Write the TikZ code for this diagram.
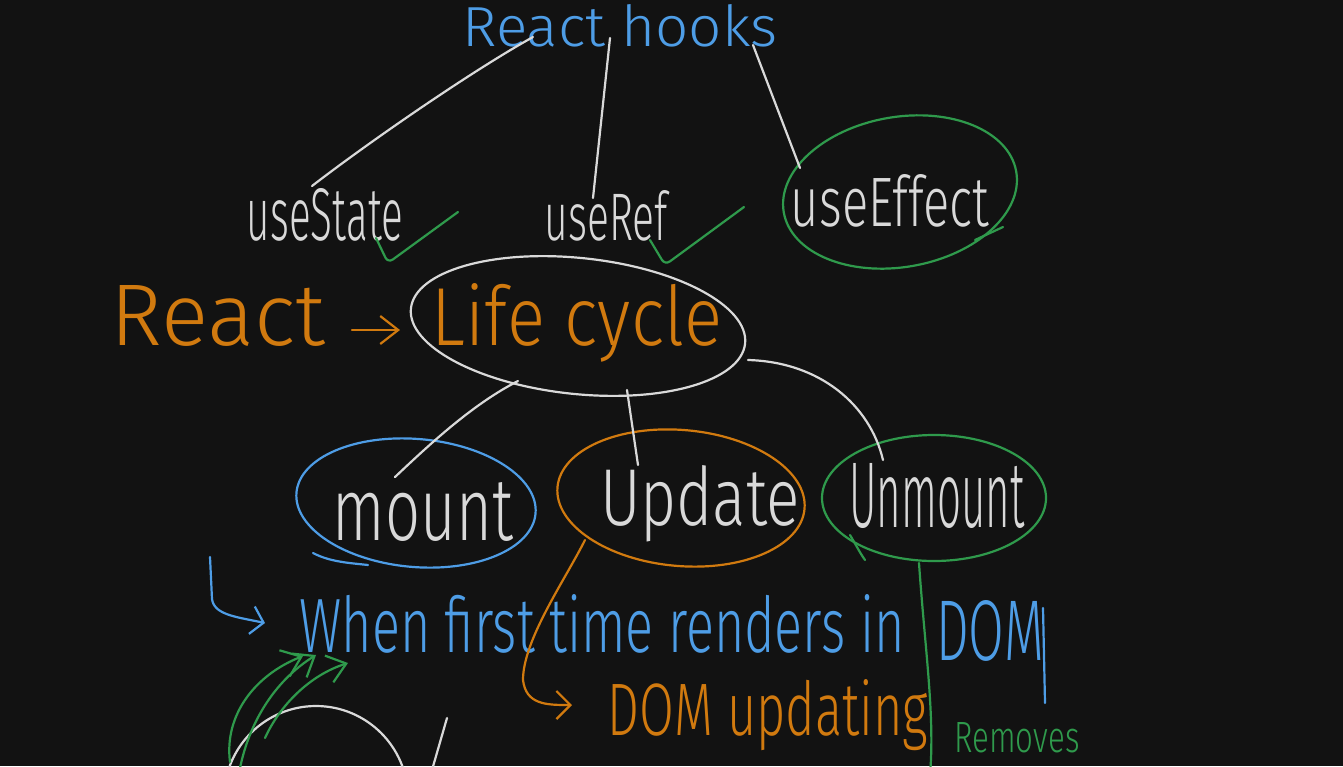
\documentclass[tikz,border=0pt]{standalone}
\usepackage{fontspec}
\setmainfont{Fira Sans Light}
\usepackage{graphicx}
\usetikzlibrary{shapes.geometric,arrows.meta,calc}
\definecolor{bg}{HTML}{121212}
\definecolor{hblue}{HTML}{4E9DE6}
\definecolor{horange}{HTML}{D17A0F}
\definecolor{hgreen}{HTML}{2F9A4C}
\definecolor{hwhite}{HTML}{D9D9D9}
\newcommand{\hwt}[3]{\resizebox{#1pt}{#2pt}{#3}}
\begin{document}
\begin{tikzpicture}[x=1pt,y=-1pt,
  stroke/.style={line width=2.2pt,line cap=round,line join=round},
  wline/.style={stroke,draw=hwhite},
  ell/.style={ellipse,draw,line width=2.2pt,inner sep=0pt},
  txt/.style={inner sep=0pt,anchor=base},
  barb/.style={-{Straight Barb[length=#1,width=28pt]}}]
\useasboundingbox (0,0) rectangle (1343,766);
\fill[bg] (0,0) rectangle (1343,766);
\clip (0,0) rectangle (1343,766);

% nodes
\node[txt,text=hblue] (hooks) at (620,46) {\hwt{315}{42}{React hooks}};
\node[txt,text=hwhite] (state) at (325,240) {\hwt{156}{52}{useState}};
\node[txt,text=hwhite] (ref) at (606,240) {\hwt{123}{50}{useRef}};
\node[ell,draw=hgreen,minimum width=236pt,minimum height=150pt,rotate=10] (effE) at (900,192) {};
\node[txt,text=hwhite] (eff) at (890,226) {\hwt{198}{52}{useEffect}};
\node[txt,text=horange] (react) at (218,345) {\hwt{215}{60}{React}};
\node[ell,draw=hwhite,minimum width=336pt,minimum height=136pt,rotate=-6] (lcE) at (578,326) {};
\node[txt,text=horange] (lc) at (577,345) {\hwt{290}{62}{Life cycle}};
\node[ell,draw=hblue,minimum width=240pt,minimum height=128pt,rotate=-5] (mountE) at (416,503) {};
\node[txt,text=hwhite] (mount) at (423,540) {\hwt{180}{58}{mount}};
\node[ell,draw=horange,minimum width=248pt,minimum height=136pt,rotate=-5] (updE) at (681,498) {};
\node[txt,text=hwhite] (upd) at (700,525) {\hwt{200}{60}{Update}};
\node[ell,draw=hgreen,minimum width=224pt,minimum height=126pt] (unE) at (934,498) {};
\node[txt,text=hwhite] (unm) at (937,527) {\hwt{175}{64}{Unmount}};
\node[txt,text=hblue] (when) at (602,652) {\hwt{605}{58}{When first time renders in}};
\node[txt,text=hblue] (dom) at (990,660) {\hwt{108}{60}{DOM}};
\node[txt,text=horange] (domup) at (768,735) {\hwt{320}{56}{DOM updating}};
\node[txt,text=hgreen] (rem) at (1017,752) {\hwt{125}{30}{Removes}};

% connectors from React hooks
\draw[wline] ($(hooks.base)+(-87,-9)$) .. controls ($(hooks.base)+(-150,26)$) and ($(state.base)+(40,-95)$) .. ($(state.base)+(-13,-54)$);
\draw[wline] ($(hooks.base)+(-10,-8)$) -- ($(ref.base)+(-13,-42)$);
\draw[wline] ($(hooks.base)+(133,-1)$) -- ($(effE.center)+(-100,-24)$);
% checkmarks
\draw[stroke,hgreen,rounded corners=6pt] ($(state.base)+(51,-2)$) -- ($(state.base)+(63,23)$) -- ($(state.base)+(133,-28)$);
\draw[stroke,hgreen,rounded corners=6pt] ($(ref.base)+(44,0)$) -- ($(ref.base)+(59,25)$) -- ($(ref.base)+(138,-33)$);
\draw[stroke,hgreen] (975,240) -- (1003,227);
% React -> Life cycle
\draw[stroke,horange,barb=18pt] ($(react.base)+(134,-15)$) -- ($(lcE.center)+(-178,4)$);
% Life cycle to phases
\draw[wline] ($(lcE.center)+(-60,55)$) .. controls ($(lcE.center)+(-105,78)$) and ($(mountE.center)+(15,-60)$) .. ($(mountE.center)+(-21,-26)$);
\draw[wline] ($(lcE.center)+(49,64)$) -- ($(updE.center)+(-43,-33)$);
\draw[wline] ($(lcE.center)+(170,34)$) .. controls ($(lcE.center)+(242,36)$) and ($(unE.center)+(-64,-93)$) .. ($(unE.center)+(-51,-38)$);
% mount annotation
\draw[stroke,hblue,barb=12pt] ($(mountE.center)+(-206,54)$) -- ++(2,42) .. controls +(2,16) and +(-28,-6) .. ($(when.base)+(-337,-29)$);
\draw[stroke,hblue] ($(dom.base)+(53,-52)$) -- ($(dom.base)+(55,43)$);
\draw[stroke,hblue] (313,553) .. controls (330,562) and (350,563) .. (368,565);
% update annotation
\draw[stroke,horange,barb=14pt] ($(updE.center)+(-96,42)$) .. controls +(-20,40) and +(0,-40) .. ++(-62,140) .. controls +(3,25) and +(-25,0) .. ($(domup.base)+(-196,-30)$);
% unmount annotation
\draw[stroke,hgreen] ($(unE.center)+(-15,65)$) .. controls +(6,87) and +(5,-60) .. ($(rem.base)+(-87,23)$);
\draw[stroke,hgreen] (850,535) .. controls (856,545) and (860,553) .. (865,560);

% bottom-left partial drawing
\draw[wline] (316,798) circle[radius=92];
\draw[wline] (447,718) -- (432,770);
\draw[stroke,hgreen,barb=18pt] (230,762) .. controls (224,715) and (255,675) .. (303,656);
\draw[stroke,hgreen,barb=18pt] (240,768) .. controls (250,720) and (276,680) .. (316,655);
\draw[stroke,hgreen,barb=18pt] (265,738) .. controls (280,705) and (310,675) .. (348,663);
\end{tikzpicture}
\end{document}
